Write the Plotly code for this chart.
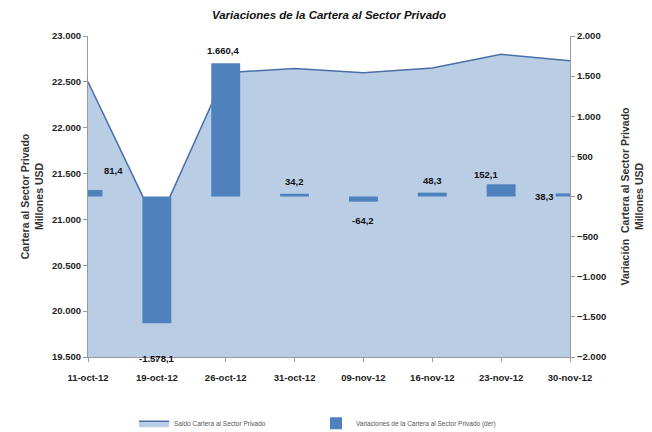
import plotly.graph_objects as go

categories = ["11-oct-12", "19-oct-12", "26-oct-12", "31-oct-12",
              "09-nov-12", "16-nov-12", "23-nov-12", "30-nov-12"]
saldo = [22500, 20930, 22600, 22645, 22600, 22650, 22800, 22730]
variaciones = [81.4, -1578.1, 1660.4, 34.2, -64.2, 48.3, 152.1, 38.3]
var_labels = ["81,4", "-1.578,1", "1.660,4", "34,2", "-64,2", "48,3", "152,1", "38,3"]
# label offsets (pixels) relative to bar end
label_shift = [(25, 19), (0, -35), (-3, 13), (0, 12), (0, -19), (0, 12), (-15, 10), (-26, -3)]

FONT = "Liberation Sans, Arial, sans-serif"
xs = list(range(len(categories)))

fig = go.Figure()
fig.add_trace(go.Scatter(
    x=xs, y=saldo, name="Saldo Cartera al Sector Privado",
    mode="lines", fill="tozeroy", fillcolor="#B9CDE5",
    line=dict(color="#4A6FA8", width=1.5), yaxis="y", legend="legend",
))
fig.add_trace(go.Bar(
    x=xs, y=variaciones, name="Variaciones de la Cartera al Sector Privado (der)",
    marker=dict(color="#4F81BD", line=dict(width=0)), width=0.42, yaxis="y2",
    legend="legend2",
))

for i, (v, lab) in enumerate(zip(variaciones, var_labels)):
    dx, dy = label_shift[i]
    fig.add_annotation(x=xs[i], y=v, yref="y2", xref="x", text=lab, showarrow=False,
                       xshift=dx, yshift=dy,
                       font=dict(family=FONT, size=9.5, color="#111111", weight="bold"))

tickfont = dict(family=FONT, size=9.5, color="#222222", weight="bold")
legfont = dict(family=FONT, size=6.5, color="#555555")
# page body has an 8px margin, so the figure is 8px smaller than the window
fig.update_layout(
    width=644, height=424,
    margin=dict(l=80, r=82, t=28, b=75, autoexpand=False),
    paper_bgcolor="white", plot_bgcolor="white",
    separators=",.",
    title=dict(text="Variaciones de la Cartera al Sector Privado", x=0.5, xanchor="center",
               xref="paper", y=0.984, yref="container", yanchor="middle",
               font=dict(family=FONT, size=11.5, color="#111111", style="italic", weight="bold")),
    xaxis=dict(
        range=[0, 7], tickmode="array", tickvals=xs, ticktext=categories,
        showline=True, linecolor="#9A9A9A", linewidth=1, ticks="outside", ticklen=4,
        tickcolor="#9A9A9A", showgrid=False, zeroline=False, automargin=False,
        ticklabelstandoff=8, tickfont=tickfont,
    ),
    yaxis=dict(
        range=[19500, 23000], tickvals=[19500, 20000, 20500, 21000, 21500, 22000, 22500, 23000],
        tickformat=",d", showline=True, linecolor="#9A9A9A", linewidth=1,
        ticks="outside", ticklen=4, tickcolor="#9A9A9A", showgrid=False, zeroline=False,
        automargin=False, tickfont=tickfont,
        title=dict(text="Cartera al Sector Privado<br>Millones USD", standoff=6,
                   font=dict(family=FONT, size=10.5, color="#333333", weight="bold")),
    ),
    yaxis2=dict(
        range=[-2000, 2000], tickvals=[-2000, -1500, -1000, -500, 0, 500, 1000, 1500, 2000],
        tickformat=",d", overlaying="y", side="right", showline=True, linecolor="#9A9A9A",
        linewidth=1, ticks="outside", ticklen=4, tickcolor="#9A9A9A", showgrid=False,
        zeroline=False, automargin=False, tickfont=tickfont,
        title=dict(text="Variación  Cartera al Sector Privado<br>Millones USD", standoff=16,
                   font=dict(family=FONT, size=10.5, color="#333333", weight="bold")),
    ),
    showlegend=True,
    legend=dict(orientation="h", x=0.0955, xanchor="left", y=-0.206, yanchor="middle",
                font=legfont, itemwidth=30),
    legend2=dict(orientation="h", x=0.473, xanchor="left", y=-0.206, yanchor="middle",
                 font=legfont, itemwidth=30),
    bargap=0.5,
)

fig.write_html("out.html")
